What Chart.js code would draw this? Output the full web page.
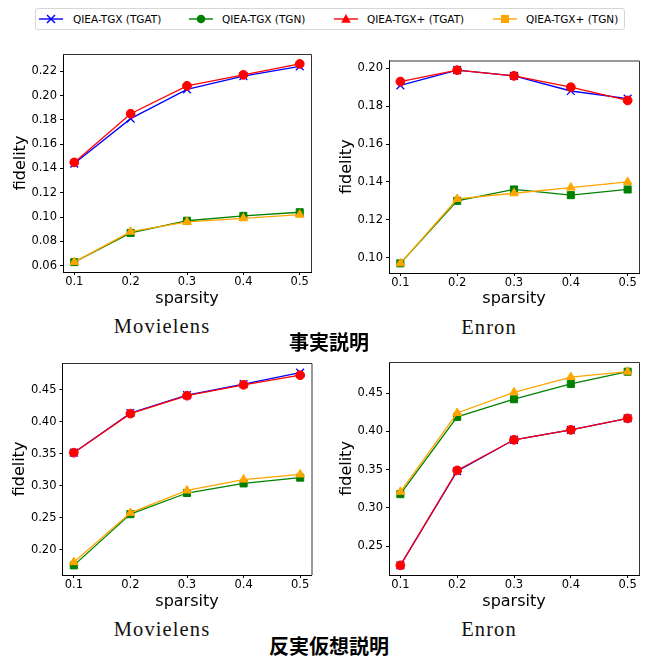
<!DOCTYPE html>
<html>
<head>
<meta charset="utf-8">
<script src="https://cdn.jsdelivr.net/npm/chart.js@4"></script>
<style>
  body { margin: 0; background: #fff; }
  #page { position: relative; width: 649px; height: 660px; overflow: hidden; background: #fff; }
  .plot { position: absolute; }
  .legend { position: absolute; left: 35px; top: 8px; width: 590px; height: 22px; border: 1px solid #d6d6d6; border-radius: 3px; box-sizing: border-box; }
  .legend svg { position: absolute; top: 3px; }
  .legend span { position: absolute; top: 3px; font: 10.5px "DejaVu Sans"; line-height: 14px; color: #000; white-space: nowrap; }
  .cap { position: absolute; transform: translate(-50%, -50%); line-height: 1; white-space: nowrap; color: #111; }
  .ds { font-family: "Liberation Serif", serif; font-size: 20.5px; letter-spacing: 1.1px; }
  .jp { font-family: "Noto Sans CJK JP"; font-weight: bold; font-size: 20px; color: #000; }
</style>
</head>
<body>
<div id="page">
  <div class="legend">
    <svg style="left:3px" width="24" height="14"><line x1="0" y1="7" x2="24" y2="7" stroke="#0000ff" stroke-width="1.4"/><line x1="8" y1="3" x2="16" y2="11" stroke="#0000ff" stroke-width="1.4"/><line x1="8" y1="11" x2="16" y2="3" stroke="#0000ff" stroke-width="1.4"/></svg>
    <span style="left:37px">QIEA-TGX (TGAT)</span>
    <svg style="left:153px" width="24" height="14"><line x1="0" y1="7" x2="24" y2="7" stroke="#008000" stroke-width="1.4"/><circle cx="12" cy="7" r="4.3" fill="#008000"/></svg>
    <span style="left:186px">QIEA-TGX (TGN)</span>
    <svg style="left:298px" width="24" height="14"><line x1="0" y1="7" x2="24" y2="7" stroke="#ff0000" stroke-width="1.4"/><polygon points="12,2 16.8,10.8 7.2,10.8" fill="#ff0000"/></svg>
    <span style="left:331px">QIEA-TGX+ (TGAT)</span>
    <svg style="left:457px" width="24" height="14"><line x1="0" y1="7" x2="24" y2="7" stroke="#ffa500" stroke-width="1.4"/><rect x="8" y="3" width="8" height="8" fill="#ffa500"/></svg>
    <span style="left:490px">QIEA-TGX+ (TGN)</span>
  </div>

  <canvas id="c1" class="plot" width="325" height="272" style="left:0px;top:40px"></canvas>
  <canvas id="c2" class="plot" width="324" height="268" style="left:325px;top:44px"></canvas>
  <canvas id="c3" class="plot" width="325" height="270" style="left:0px;top:345px"></canvas>
  <canvas id="c4" class="plot" width="324" height="270" style="left:325px;top:345px"></canvas>

  <div class="cap ds" style="left:162px;top:326px">Movielens</div>
  <div class="cap ds" style="left:489px;top:326.5px">Enron</div>
  <div class="cap jp" style="left:329px;top:342px">事実説明</div>
  <div class="cap ds" style="left:162px;top:629px">Movielens</div>
  <div class="cap ds" style="left:489px;top:629px">Enron</div>
  <div class="cap jp" style="left:329px;top:646px">反実仮想説明</div>
</div>

<script>
// sparsity levels (x axis)
const sparsity = [0.1, 0.2, 0.3, 0.4, 0.5];
const seriesNames = ["QIEA-TGX (TGAT)", "QIEA-TGX (TGN)", "QIEA-TGX+ (TGAT)", "QIEA-TGX+ (TGN)"];

// factual explanation - Movielens
const factMovielensTgxTgat = [0.144, 0.181, 0.205, 0.216, 0.224];
const factMovielensTgxTgn = [0.063, 0.087, 0.097, 0.101, 0.104];
const factMovielensPlusTgat = [0.145, 0.185, 0.208, 0.217, 0.226];
const factMovielensPlusTgn = [0.063, 0.088, 0.096, 0.099, 0.102];

// factual explanation - Enron
const factEnronTgxTgat = [0.191, 0.199, 0.196, 0.188, 0.184];
const factEnronTgxTgn = [0.097, 0.130, 0.136, 0.133, 0.136];
const factEnronPlusTgat = [0.193, 0.199, 0.196, 0.190, 0.183];
const factEnronPlusTgn = [0.097, 0.131, 0.134, 0.137, 0.140];

// counterfactual explanation - Movielens
const cfMovielensTgxTgat = [0.352, 0.414, 0.442, 0.459, 0.477];
const cfMovielensTgxTgn = [0.176, 0.256, 0.289, 0.304, 0.313];
const cfMovielensPlusTgat = [0.352, 0.413, 0.441, 0.458, 0.473];
const cfMovielensPlusTgn = [0.181, 0.258, 0.293, 0.310, 0.318];

// counterfactual explanation - Enron
const cfEnronTgxTgat = [0.225, 0.348, 0.389, 0.402, 0.417];
const cfEnronTgxTgn = [0.318, 0.419, 0.442, 0.462, 0.478];
const cfEnronPlusTgat = [0.225, 0.349, 0.389, 0.402, 0.417];
const cfEnronPlusTgn = [0.321, 0.424, 0.451, 0.471, 0.478];

// tick labels
const xTicks = [0.1, 0.2, 0.3, 0.4, 0.5];
const yTicksFactMovielens = [0.06, 0.08, 0.10, 0.12, 0.14, 0.16, 0.18, 0.20, 0.22];
const yTicksFactEnron = [0.10, 0.12, 0.14, 0.16, 0.18, 0.20];
const yTicksCfMovielens = [0.20, 0.25, 0.30, 0.35, 0.40, 0.45];
const yTicksCfEnron = [0.25, 0.30, 0.35, 0.40, 0.45];

Chart.defaults.font.family = "DejaVu Sans";
Chart.defaults.color = "#000";

const styles = [
  { color: "#0000ff", pointStyle: "crossRot", radius: 5.5, order: 4 },
  { color: "#008000", pointStyle: "rect", radius: 5, order: 3 },
  { color: "#ff0000", pointStyle: "circle", radius: 4.4, order: 2 },
  { color: "#ffa500", pointStyle: "triangle", radius: 5, order: 1 },
];

// top and right spines
const frame = {
  id: "frame",
  afterDraw(chart) {
    const { ctx, chartArea: a } = chart;
    ctx.save();
    ctx.strokeStyle = "#333";
    ctx.lineWidth = 1;
    ctx.beginPath();
    ctx.moveTo(a.left, a.top + 0.5);
    ctx.lineTo(a.right + 0.5, a.top + 0.5);
    ctx.lineTo(a.right + 0.5, a.bottom);
    ctx.stroke();
    ctx.restore();
  }
};

function makeChart(id, series, yTicks, pad, yWidth, xHeight) {
  const all = series.flat();
  const lo = Math.min(...all), hi = Math.max(...all);
  const m = (hi - lo) * 0.05;
  new Chart(document.getElementById(id), {
    type: "line",
    data: {
      datasets: series.map((vals, i) => ({
        label: seriesNames[i],
        data: vals.map((v, j) => ({ x: sparsity[j], y: v })),
        borderColor: styles[i].color,
        backgroundColor: styles[i].color,
        pointBackgroundColor: styles[i].color,
        pointBorderColor: styles[i].color,
        pointStyle: styles[i].pointStyle,
        pointRadius: styles[i].radius,
        pointBorderWidth: styles[i].pointStyle === "crossRot" ? 1.3 : 1,
        borderWidth: 1.3,
        order: styles[i].order,
        tension: 0,
        clip: false,
      })),
    },
    options: {
      responsive: false,
      animation: false,
      events: [],
      layout: { padding: pad },
      plugins: { legend: { display: false }, tooltip: { enabled: false } },
      scales: {
        x: {
          type: "linear",
          min: 0.08,
          max: 0.52,
          afterBuildTicks: (s) => { s.ticks = xTicks.map((v) => ({ value: v })); },
          afterFit: (s) => { s.height = xHeight; },
          ticks: { callback: (v) => v.toFixed(1), font: { size: 11.5 }, padding: 0, maxRotation: 0 },
          grid: { drawOnChartArea: false, drawTicks: true, tickLength: 3, color: "#000" },
          border: { display: true, color: "#000", width: 1 },
          title: { display: true, text: "sparsity", font: { size: 16 } },
        },
        y: {
          type: "linear",
          min: lo - m,
          max: hi + m,
          afterBuildTicks: (s) => { s.ticks = yTicks.map((v) => ({ value: v })); },
          afterFit: (s) => { s.width = yWidth; },
          ticks: { callback: (v) => v.toFixed(2), font: { size: 11.5 }, padding: 3 },
          grid: { drawOnChartArea: false, drawTicks: true, tickLength: 3, color: "#000" },
          border: { display: true, color: "#000", width: 1 },
          title: { display: true, text: "fidelity", font: { size: 16 } },
        },
      },
    },
    plugins: [frame],
  });
}

makeChart("c1",
  [factMovielensTgxTgat, factMovielensTgxTgn, factMovielensPlusTgat, factMovielensPlusTgn],
  yTicksFactMovielens, { left: 7, top: 14, right: 14, bottom: 0 }, 56, 40);
makeChart("c2",
  [factEnronTgxTgat, factEnronTgxTgn, factEnronPlusTgat, factEnronPlusTgn],
  yTicksFactEnron, { left: 8, top: 16.5, right: 10, bottom: 0 }, 56, 39);
makeChart("c3",
  [cfMovielensTgxTgat, cfMovielensTgxTgn, cfMovielensPlusTgat, cfMovielensPlusTgn],
  yTicksCfMovielens, { left: 6, top: 18, right: 13.5, bottom: 0 }, 56.5, 40);
makeChart("c4",
  [cfEnronTgxTgat, cfEnronTgxTgn, cfEnronPlusTgat, cfEnronPlusTgn],
  yTicksCfEnron, { left: 8, top: 17, right: 10, bottom: 0 }, 56, 40);
</script>
</body>
</html>
